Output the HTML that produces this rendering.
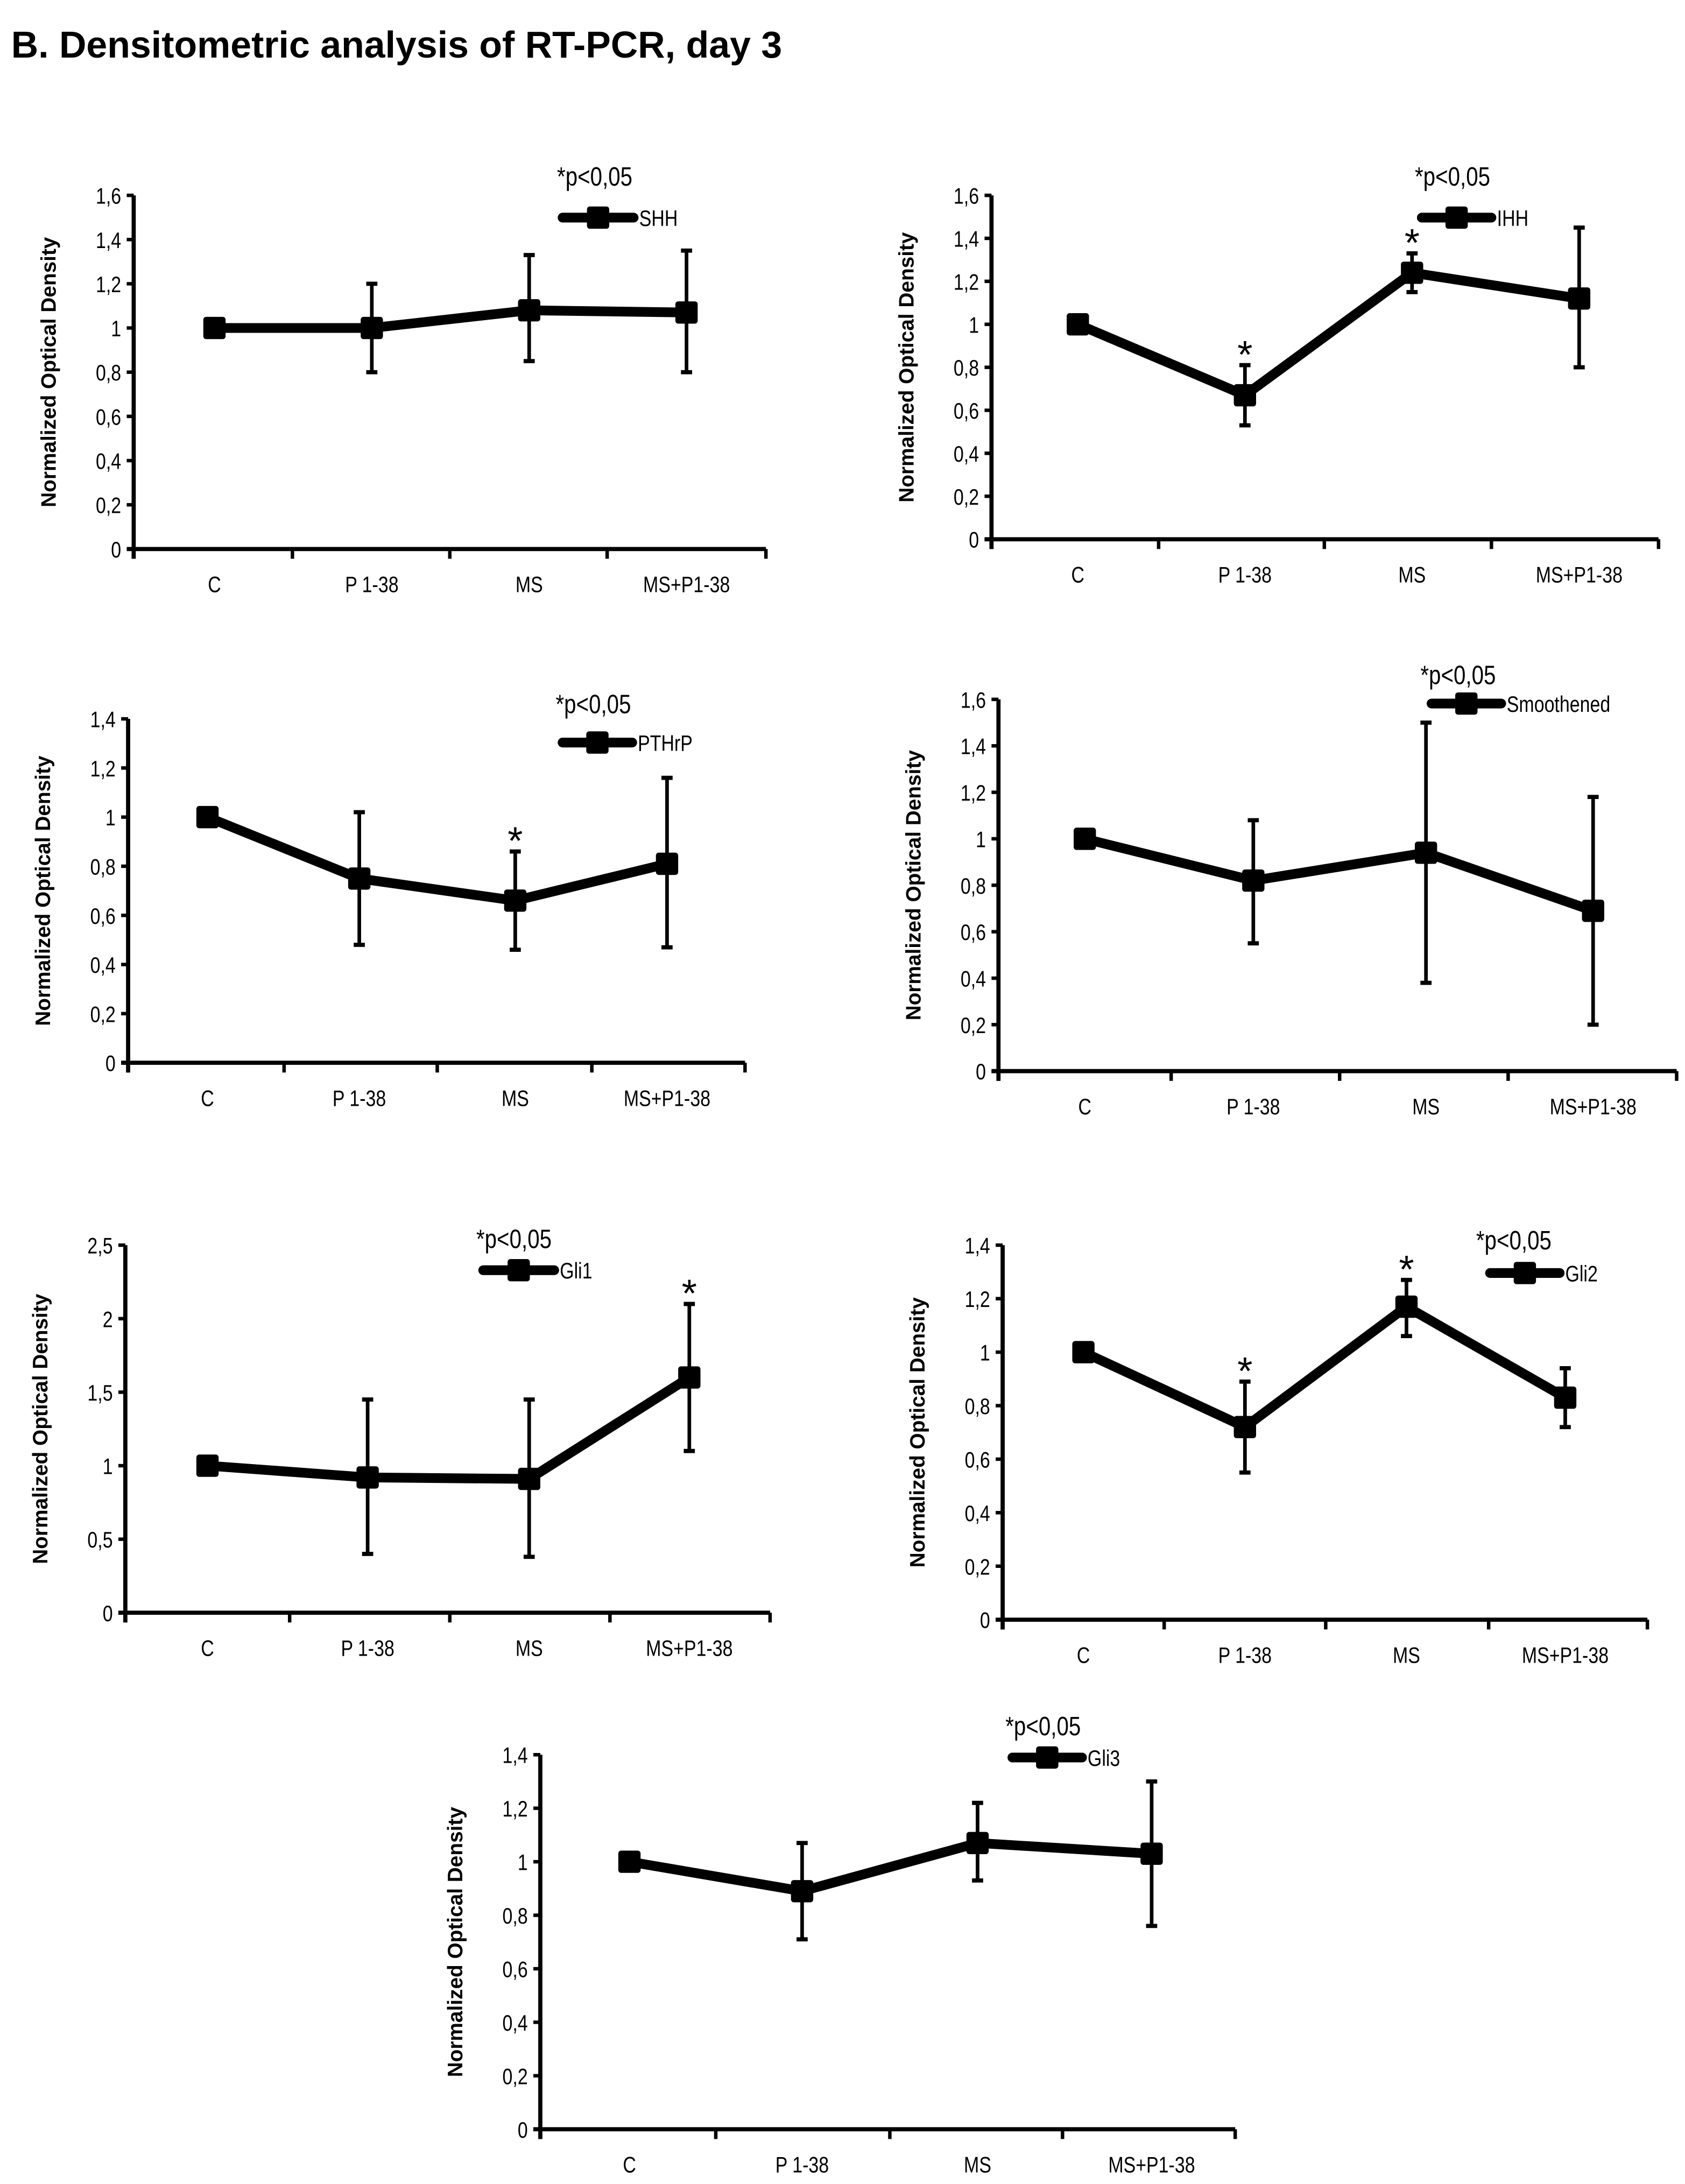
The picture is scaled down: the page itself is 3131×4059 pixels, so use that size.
<!DOCTYPE html>
<html><head><meta charset="utf-8"><style>
html,body{margin:0;padding:0;background:#fff;}
svg{display:block;}
text{font-family:"Liberation Sans",sans-serif;fill:#000;}
.ttl{font-family:"Liberation Sans",sans-serif;font-weight:bold;}
.yt{font-family:"Liberation Sans",sans-serif;font-weight:bold;font-size:15px;}
</style></head><body>
<svg id="fig" width="3131" height="4059" viewBox="0 0 1210 1568" xmlns="http://www.w3.org/2000/svg">
<text class="ttl" x="8" y="41" font-size="27">B. Densitometric analysis of RT-PCR, day 3</text>
</svg>
<script>
const categories = ["C","P 1-38","MS","MS+P1-38"];
const shhValues = [1.0, 1.0, 1.08, 1.07];
const shhLow = [1.0, 0.80, 0.85, 0.80];
const shhHigh = [1.0, 1.20, 1.33, 1.35];
const ihhValues = [1.0, 0.67, 1.24, 1.12];
const ihhLow = [1.0, 0.53, 1.15, 0.80];
const ihhHigh = [1.0, 0.81, 1.33, 1.45];
const pthrpValues = [1.0, 0.75, 0.66, 0.81];
const pthrpLow = [1.0, 0.48, 0.46, 0.47];
const pthrpHigh = [1.0, 1.02, 0.86, 1.16];
const smoValues = [1.0, 0.82, 0.94, 0.69];
const smoLow = [1.0, 0.55, 0.38, 0.20];
const smoHigh = [1.0, 1.08, 1.50, 1.18];
const gli1Values = [1.0, 0.92, 0.91, 1.60];
const gli1Low = [1.0, 0.40, 0.38, 1.10];
const gli1High = [1.0, 1.45, 1.45, 2.10];
const gli2Values = [1.0, 0.72, 1.17, 0.83];
const gli2Low = [1.0, 0.55, 1.06, 0.72];
const gli2High = [1.0, 0.89, 1.27, 0.94];
const gli3Values = [1.0, 0.89, 1.07, 1.03];
const gli3Low = [1.0, 0.71, 0.93, 0.76];
const gli3High = [1.0, 1.07, 1.22, 1.30];
const ticks16 = ["0","0,2","0,4","0,6","0,8","1","1,2","1,4","1,6"];
const ticks14 = ["0","0,2","0,4","0,6","0,8","1","1,2","1,4"];
const ticks25 = ["0","0,5","1","1,5","2","2,5"];
const shhStars = [false,false,false,false];
const ihhStars = [false,true,true,false];
const pthrpStars = [false,false,true,false];
const smoStars = [false,false,false,false];
const gli1Stars = [false,false,false,true];
const gli2Stars = [false,true,true,false];
const gli3Stars = [false,false,false,false];

const NS="http://www.w3.org/2000/svg";
const svg=document.getElementById('fig');
function mk(parent,tag,attrs){const e=document.createElementNS(NS,tag);for(const k in attrs)e.setAttribute(k,attrs[k]);parent.appendChild(e);return e;}
function ntext(parent,x,y,anchor,size,str){
  const t=mk(parent,'text',{x:0,y:0,'text-anchor':anchor,'font-size':size,transform:`translate(${x},${y}) scale(0.82,1)`});
  t.textContent=str;return t;
}

function chart(name,cfg,vals,lo,hi,tickLabels,stars){
  const g=mk(svg,'g',{});
  
  
  const yMax=cfg.ymax;
  const y=v=>cfg.zero-(v/yMax)*(cfg.zero-cfg.top);
  const xs=cfg.cats;
  const ya=mk(g,'line',{x1:cfg.ax,y1:cfg.top,x2:cfg.ax,y2:cfg.zero+7,stroke:'#000','stroke-width':3});
  
  
  const xa=mk(g,'line',{x1:cfg.ax-5,y1:cfg.zero,x2:cfg.right,y2:cfg.zero,stroke:'#000','stroke-width':3});
  
  
  for(let i=0;i<cfg.xt.length;i++){mk(g,'line',{x1:cfg.xt[i],y1:cfg.zero,x2:cfg.xt[i],y2:cfg.zero+7,stroke:'#000','stroke-width':2.5});}
  const n=tickLabels.length-1;
  for(let i=0;i<=n;i++){
    const v=yMax*i/n, yy=y(v);
    mk(g,'line',{x1:cfg.ax-5,y1:yy,x2:cfg.ax,y2:yy,stroke:'#000','stroke-width':2.5});
    const t=ntext(g,cfg.ax-9,yy+6,'end',16,tickLabels[i]);
    
    
  }
  for(let i=0;i<categories.length;i++){
    const t=ntext(g,xs[i],cfg.zero+31,'middle',16,categories[i]);
    
    
  }
  const yt=mk(g,'text',{class:'yt',x:0,y:0,'text-anchor':'middle',transform:`translate(${cfg.ax-56},${(cfg.top+cfg.zero)/2}) rotate(-90)`});
  yt.textContent='Normalized Optical Density';
  
  
  for(let i=0;i<vals.length;i++){
    if(hi[i]===lo[i])continue;
    const eb=mk(g,'g',{});
    
    
    mk(eb,'line',{x1:xs[i],y1:y(lo[i]),x2:xs[i],y2:y(hi[i]),stroke:'#000','stroke-width':2.6});
    mk(eb,'line',{x1:xs[i]-4,y1:y(lo[i]),x2:xs[i]+4,y2:y(lo[i]),stroke:'#000','stroke-width':3});
    mk(eb,'line',{x1:xs[i]-4,y1:y(hi[i]),x2:xs[i]+4,y2:y(hi[i]),stroke:'#000','stroke-width':3});
  }
  const pts=vals.map((v,i)=>xs[i]+','+y(v)).join(' ');
  const pl=mk(g,'polyline',{points:pts,fill:'none',stroke:'#000','stroke-width':7,'stroke-linejoin':'round'});
  
  
  for(let i=0;i<vals.length;i++){
    const r=mk(g,'rect',{x:xs[i]-8,y:y(vals[i])-8,width:16,height:16,rx:2,fill:'#000'});
    
    
    if(stars[i]){
      const s=mk(g,'text',{x:xs[i],y:y(hi[i])+2,'text-anchor':'middle','font-size':28});
      s.textContent='*';
      
      
    }
  }
  const p=ntext(g,cfg.px,cfg.py+7,'start',19,'*p<0,05');
  
  
  const lg=mk(g,'g',{});
  
  
  mk(lg,'line',{x1:cfg.lx1,y1:cfg.ly,x2:cfg.lx2,y2:cfg.ly,stroke:'#000','stroke-width':7,'stroke-linecap':'round'});
  const mx=(cfg.lx1+cfg.lx2)/2;
  mk(lg,'rect',{x:mx-8,y:cfg.ly-8,width:16,height:16,rx:2,fill:'#000'});
  ntext(lg,cfg.lx2+4,cfg.ly+6,'start',16,cfg.label);
}

chart('shh',{ax:96,top:140,zero:394,right:550,ymax:1.6,xt:[96,210,323,436,550],cats:[154,267,380,493],px:400,py:126,lx1:404,lx2:455,ly:156,label:'SHH'},shhValues,shhLow,shhHigh,ticks16,shhStars);
chart('ihh',{ax:712,top:140,zero:387,right:1191,ymax:1.6,xt:[712,832,951,1071,1191],cats:[774,894,1014,1134],px:1016,py:126,lx1:1021,lx2:1071,ly:156,label:'IHH'},ihhValues,ihhLow,ihhHigh,ticks16,ihhStars);
chart('pthrp',{ax:92,top:516,zero:763,right:535,ymax:1.4,xt:[92,204,314,425,535],cats:[149,258,370,479],px:399,py:505,lx1:404,lx2:454,ly:533,label:'PTHrP'},pthrpValues,pthrpLow,pthrpHigh,ticks14,pthrpStars);
chart('smoothened',{ax:717,top:502,zero:769,right:1204,ymax:1.6,xt:[717,841,962,1083,1204],cats:[779,900,1024,1144],px:1020,py:484,lx1:1028,lx2:1078,ly:505,label:'Smoothened'},smoValues,smoLow,smoHigh,ticks16,smoStars);
chart('gli1',{ax:90,top:894,zero:1158,right:553,ymax:2.5,xt:[90,208,323,438,553],cats:[149,264,380,495],px:342,py:889,lx1:347,lx2:398,ly:912,label:'Gli1'},gli1Values,gli1Low,gli1High,ticks25,gli1Stars);
chart('gli2',{ax:720,top:894,zero:1163,right:1183,ymax:1.4,xt:[720,836,952,1069,1183],cats:[778,894,1010,1124],px:1060,py:890,lx1:1070,lx2:1120,ly:914,label:'Gli2'},gli2Values,gli2Low,gli2High,ticks14,gli2Stars);
chart('gli3',{ax:388,top:1260,zero:1529,right:887,ymax:1.4,xt:[388,514,639,763,887],cats:[452,576,702,827],px:722,py:1239,lx1:727,lx2:777,ly:1262,label:'Gli3'},gli3Values,gli3Low,gli3High,ticks14,gli3Stars);
</script>
</body></html>
